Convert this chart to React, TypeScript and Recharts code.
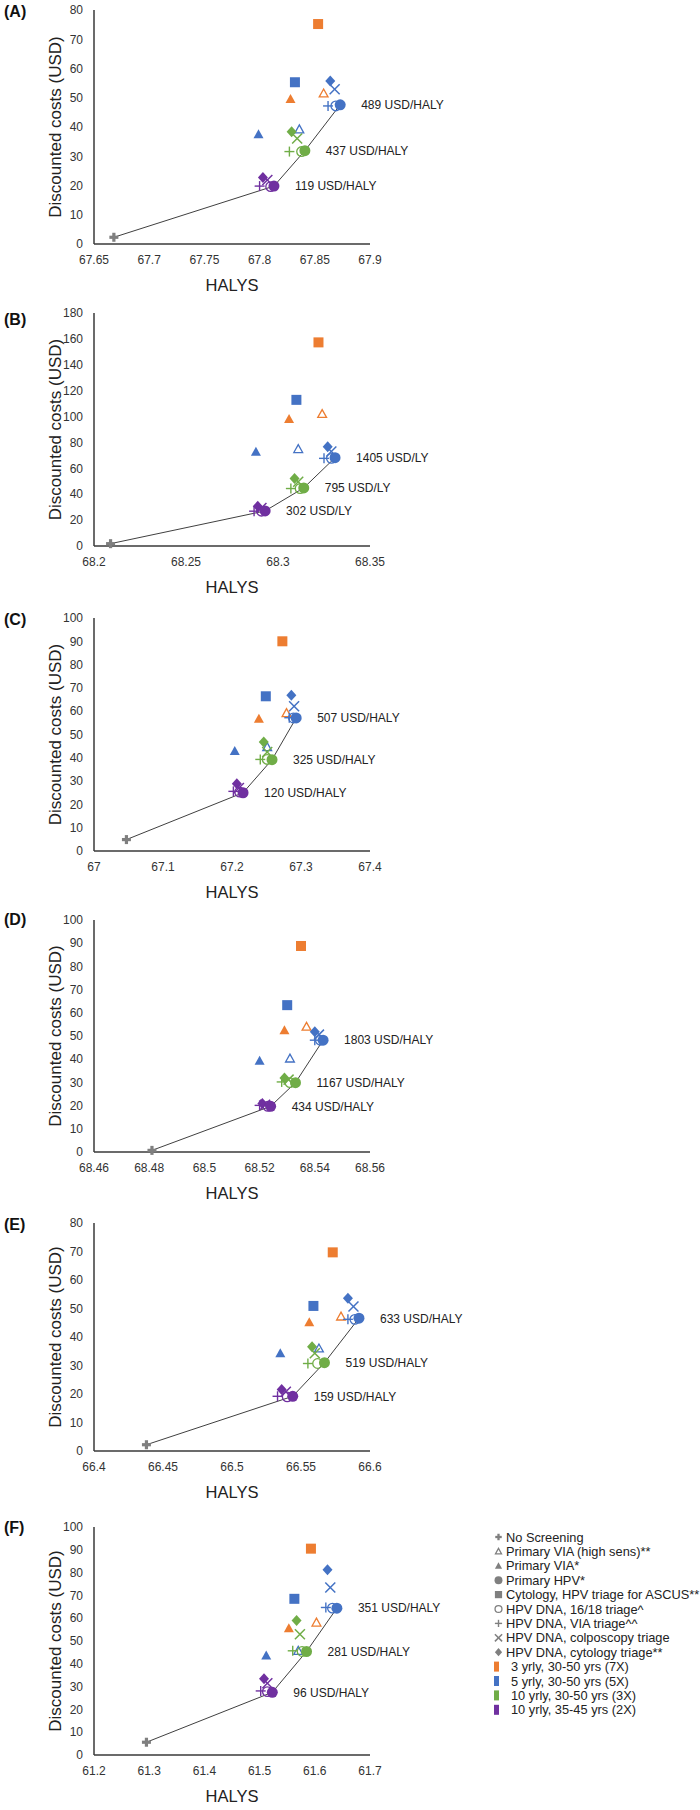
import { ScatterChart, Scatter, XAxis, YAxis, Label, Legend } from 'recharts';

const FONT = '"Liberation Sans", Arial, Helvetica, sans-serif';

// the 22 points drawn in every panel: marker shape + screening interval
const pointStrategy = [
  'none', 'square', 'square', 'triOpen', 'triFill', 'triFill', 'triOpen',
  'diamond', 'cross', 'plus', 'circOpen', 'circFill',
  'diamond', 'cross', 'plus', 'circOpen', 'circFill',
  'diamond', 'cross', 'plus', 'circOpen', 'circFill',
];
const pointGroup = [
  'none', '3yr', '5yr', '3yr', '3yr', '5yr', '5yr',
  '5yr', '5yr', '5yr', '5yr', '5yr',
  '10yr', '10yr', '10yr', '10yr', '10yr',
  '10yr35', '10yr35', '10yr35', '10yr35', '10yr35',
];
// no screening -> purple HPV -> green HPV -> blue HPV
const frontierIndex = [0, 21, 16, 11];

// (A)
const halysA = [67.668, 67.853, 67.832, 67.858, 67.828, 67.799, 67.836, 67.864, 67.868, 67.862, 67.869, 67.873, 67.829, 67.834, 67.827, 67.838, 67.841, 67.803, 67.807, 67.8, 67.81, 67.813];
const costA = [2.3, 75.2, 55.3, 51.5, 49.6, 37.5, 39.2, 55.7, 52.9, 47.2, 47.2, 47.6, 38.4, 36.1, 31.6, 31.6, 31.9, 22.7, 21.9, 19.8, 19.6, 19.8];
const icerA = ['119 USD/HALY', '437 USD/HALY', '489 USD/HALY'];
const xTicksA = [67.65, 67.7, 67.75, 67.8, 67.85, 67.9];
const yTicksA = [0, 10, 20, 30, 40, 50, 60, 70, 80];

// (B)
const halysB = [68.209, 68.322, 68.31, 68.324, 68.306, 68.288, 68.311, 68.327, 68.329, 68.325, 68.329, 68.331, 68.309, 68.311, 68.307, 68.312, 68.314, 68.289, 68.291, 68.287, 68.291, 68.293];
const costB = [1.8, 157.3, 112.9, 102, 98.1, 72.8, 74.9, 76.7, 73, 67.7, 67.7, 68.2, 52.2, 49.6, 44.4, 44.4, 44.9, 30.7, 29.4, 26.9, 26.9, 27.1];
const icerB = ['302 USD/LY', '795 USD/LY', '1405 USD/LY'];
const xTicksB = [68.2, 68.25, 68.3, 68.35];
const yTicksB = [0, 20, 40, 60, 80, 100, 120, 140, 160, 180];

// (C)
const halysC = [67.047, 67.273, 67.249, 67.279, 67.239, 67.204, 67.251, 67.286, 67.29, 67.283, 67.289, 67.293, 67.246, 67.251, 67.241, 67.251, 67.258, 67.207, 67.21, 67.202, 67.211, 67.216];
const costC = [4.9, 90, 66.4, 59.2, 56.8, 42.9, 44.6, 66.8, 62.1, 57.2, 57.1, 57.1, 46.8, 42.5, 39.3, 39.3, 39.2, 28.9, 27, 25.6, 25.3, 25];
const icerC = ['120 USD/HALY', '325 USD/HALY', '507 USD/HALY'];
const xTicksC = [67, 67.1, 67.2, 67.3, 67.4];
const yTicksC = [0, 10, 20, 30, 40, 50, 60, 70, 80, 90, 100];

// (D)
const halysD = [68.481, 68.535, 68.53, 68.537, 68.529, 68.52, 68.531, 68.54, 68.5415, 68.54, 68.542, 68.543, 68.529, 68.5305, 68.528, 68.531, 68.533, 68.521, 68.522, 68.52, 68.523, 68.524];
const costD = [0.7, 88.8, 63.3, 54, 52.5, 39.3, 40.3, 51.8, 50.6, 48.2, 48.2, 48.2, 31.9, 31.2, 30.2, 29.9, 29.9, 20.9, 20.4, 20.1, 19.7, 19.7];
const icerD = ['434 USD/HALY', '1167 USD/HALY', '1803 USD/HALY'];
const xTicksD = [68.46, 68.48, 68.5, 68.52, 68.54, 68.56];
const yTicksD = [0, 10, 20, 30, 40, 50, 60, 70, 80, 90, 100];

// (E)
const halysE = [66.438, 66.573, 66.559, 66.579, 66.556, 66.535, 66.563, 66.584, 66.588, 66.584, 66.589, 66.592, 66.558, 66.56, 66.555, 66.562, 66.567, 66.536, 66.539, 66.533, 66.54, 66.544];
const costE = [2.2, 69.7, 50.9, 47.2, 45.2, 34.3, 36, 53.6, 50.7, 46.2, 46.2, 46.6, 36.6, 34.3, 30.7, 30.7, 31, 21.6, 20.8, 19.2, 19, 19.2];
const icerE = ['159 USD/HALY', '519 USD/HALY', '633 USD/HALY'];
const xTicksE = [66.4, 66.45, 66.5, 66.55, 66.6];
const yTicksE = [0, 10, 20, 30, 40, 50, 60, 70, 80];

// (F)
const halysF = [61.295, 61.593, 61.563, 61.603, 61.553, 61.512, 61.57, 61.623, 61.628, 61.62, 61.632, 61.64, 61.567, 61.573, 61.56, 61.577, 61.585, 61.508, 61.514, 61.502, 61.514, 61.523];
const costF = [5.6, 90.5, 68.5, 58.1, 55.6, 43.6, 45.7, 81.3, 73.5, 64.7, 64.4, 64.4, 59, 53, 45.7, 45.4, 45.4, 33.4, 31.5, 28.1, 27.8, 27.5];
const icerF = ['96 USD/HALY', '281 USD/HALY', '351 USD/HALY'];
const xTicksF = [61.2, 61.3, 61.4, 61.5, 61.6, 61.7];
const yTicksF = [0, 10, 20, 30, 40, 50, 60, 70, 80, 90, 100];

const legendShapes = ['none', 'triOpen', 'triFill', 'circFill', 'square', 'circOpen', 'plus', 'cross', 'diamond'];
const legendShapeNames = [
  'No Screening',
  'Primary VIA (high sens)**',
  'Primary VIA*',
  'Primary HPV*',
  'Cytology, HPV triage for ASCUS**',
  'HPV DNA, 16/18 triage^',
  'HPV DNA, VIA triage^^',
  'HPV DNA, colposcopy triage',
  'HPV DNA, cytology triage**',
];
const legendGroups = ['3yr', '5yr', '10yr', '10yr35'];
const legendGroupNames = ['3 yrly, 30-50 yrs (7X)', '5 yrly, 30-50 yrs (5X)', '10 yrly, 30-50 yrs (3X)', '10 yrly, 35-45 yrs (2X)'];

const groupColor: Record<string, string> = {
  none: '#7f7f7f',
  '3yr': '#ed7d31',
  '5yr': '#4472c4',
  '10yr': '#70ad47',
  '10yr35': '#7030a0',
};

const panels = [
  { letter: '(A)', halys: halysA, cost: costA, icer: icerA, xTicks: xTicksA, yTicks: yTicksA },
  { letter: '(B)', halys: halysB, cost: costB, icer: icerB, xTicks: xTicksB, yTicks: yTicksB },
  { letter: '(C)', halys: halysC, cost: costC, icer: icerC, xTicks: xTicksC, yTicks: yTicksC },
  { letter: '(D)', halys: halysD, cost: costD, icer: icerD, xTicks: xTicksD, yTicks: yTicksD },
  { letter: '(E)', halys: halysE, cost: costE, icer: icerE, xTicks: xTicksE, yTicks: yTicksE },
  { letter: '(F)', halys: halysF, cost: costF, icer: icerF, xTicks: xTicksF, yTicks: yTicksF },
];

// page layout (plot area top / height, letter centre)
const plotTop = [10, 313, 618, 920, 1223, 1527];
const plotHeight = [234, 233, 233, 232, 228, 228];
const letterY = [12, 320, 620, 920, 1225, 1528];

function Marker({ cx, cy, kind, color, s = 1 }: { cx: number; cy: number; kind: string; color: string; s?: number }) {
  const h = 5 * s;
  switch (kind) {
    case 'none':
      return (
        <g fill={color}>
          <rect x={cx - 4.5 * s} y={cy - 1.6 * s} width={9 * s} height={3.2 * s} />
          <rect x={cx - 1.6 * s} y={cy - 4.5 * s} width={3.2 * s} height={9 * s} />
        </g>
      );
    case 'square':
      return <rect x={cx - h} y={cy - h} width={2 * h} height={2 * h} fill={color} />;
    case 'triFill':
      return <polygon points={`${cx},${cy - h} ${cx + h},${cy + 0.8 * h} ${cx - h},${cy + 0.8 * h}`} fill={color} />;
    case 'triOpen':
      return (
        <polygon
          points={`${cx},${cy - h + 0.6} ${cx + h - 0.6},${cy + 0.8 * h - 0.5} ${cx - h + 0.6},${cy + 0.8 * h - 0.5}`}
          fill="none"
          stroke={color}
          strokeWidth={1.3}
        />
      );
    case 'circFill':
      return <circle cx={cx} cy={cy} r={5.5 * s} fill={color} />;
    case 'circOpen':
      return <circle cx={cx} cy={cy} r={4.8 * s} fill="none" stroke={color} strokeWidth={1.3} />;
    case 'plus':
      return (
        <g stroke={color} strokeWidth={1.4}>
          <line x1={cx - h} y1={cy} x2={cx + h} y2={cy} />
          <line x1={cx} y1={cy - h} x2={cx} y2={cy + h} />
        </g>
      );
    case 'cross':
      return (
        <g stroke={color} strokeWidth={1.5}>
          <line x1={cx - h} y1={cy - h} x2={cx + h} y2={cy + h} />
          <line x1={cx - h} y1={cy + h} x2={cx + h} y2={cy - h} />
        </g>
      );
    case 'diamond':
      return <polygon points={`${cx},${cy - h - 0.5} ${cx + h},${cy} ${cx},${cy + h + 0.5} ${cx - h},${cy}`} fill={color} />;
    default:
      return <g />;
  }
}

function LegendBox() {
  const rowY = (i: number) => 8 + 14.4 * i;
  return (
    <svg width={210} height={190} style={{ display: 'block', overflow: 'visible' }}>
      {legendShapes.map((k, i) => (
        <g key={k}>
          <Marker cx={8.5} cy={rowY(i)} kind={k} color="#7f7f7f" s={0.72} />
          <text x={16} y={rowY(i)} dy="0.36em" fontSize={12.8} fill="#222" fontFamily={FONT}>
            {legendShapeNames[i]}
          </text>
        </g>
      ))}
      {legendGroups.map((g, j) => {
        const i = legendShapes.length + j;
        return (
          <g key={g}>
            <rect x={4} y={rowY(i) - 5} width={5} height={10} fill={groupColor[g]} />
            <text x={21} y={rowY(i)} dy="0.36em" fontSize={12.8} fill="#222" fontFamily={FONT}>
              {legendGroupNames[j]}
            </text>
          </g>
        );
      })}
    </svg>
  );
}

const fmt = (v: number) => String(Number(v.toFixed(3)));

function Panel({ idx }: { idx: number }) {
  const p = panels[idx];
  const points = p.halys.map((x, i) => ({ x, y: p.cost[i], kind: pointStrategy[i], group: pointGroup[i] }));
  const frontier = frontierIndex.map((i, k) => ({ x: p.halys[i], y: p.cost[i], label: k > 0 ? p.icer[k - 1] : '' }));
  const xt = p.xTicks;
  const yt = p.yTicks;
  const axisLine = { stroke: '#3a3a3a', strokeWidth: 1.5 };
  const tick = { fontSize: 12, fill: '#333', fontFamily: FONT };
  return (
    <div style={{ position: 'absolute', left: 0, top: plotTop[idx] - 10 }}>
      <div
        style={{
          position: 'absolute',
          left: 4,
          top: letterY[idx] - plotTop[idx],
          fontFamily: FONT,
          fontWeight: 'bold',
          fontSize: 16,
          lineHeight: '20px',
          color: '#111',
          zIndex: 2,
        }}
      >
        {p.letter}
      </div>
      <ScatterChart width={700} height={plotHeight[idx] + 60} margin={{ top: 10, right: 330, left: 16, bottom: 0 }}>
        <XAxis
          type="number"
          dataKey="x"
          domain={[xt[0], xt[xt.length - 1]]}
          ticks={xt}
          interval={0}
          tickLine={false}
          axisLine={axisLine}
          tick={tick}
          tickMargin={5}
          tickFormatter={fmt}
          height={50}
        >
          <Label value="HALYS" position="insideBottom" offset={3} fontSize={16.5} fill="#222" fontFamily={FONT} />
        </XAxis>
        <YAxis
          type="number"
          dataKey="y"
          domain={[yt[0], yt[yt.length - 1]]}
          ticks={yt}
          interval={0}
          tickLine={false}
          axisLine={axisLine}
          tick={tick}
          tickMargin={5}
          width={78}
        >
          <Label value="Discounted costs (USD)" angle={-90} position="center" fontSize={17} fill="#222" fontFamily={FONT} />
        </YAxis>
        <Scatter
          data={frontier}
          isAnimationActive={false}
          line={{ stroke: '#404040', strokeWidth: 1 }}
          lineType="joint"
          shape={(s: any) =>
            s.payload.label ? (
              <text x={s.cx + 21} y={s.cy} dy="0.36em" fontSize={12} fill="#222" fontFamily={FONT}>
                {s.payload.label}
              </text>
            ) : (
              <g />
            )
          }
        />
        <Scatter
          data={points}
          isAnimationActive={false}
          shape={(s: any) => <Marker cx={s.cx} cy={s.cy} kind={s.payload.kind} color={groupColor[s.payload.group]} />}
        />
        {idx === panels.length - 1 && (
          <Legend
            layout="horizontal"
            align="center"
            verticalAlign="middle"
            content={() => <LegendBox />}
            wrapperStyle={{ left: 490, top: 12, width: 210, height: 190 }}
          />
        )}
      </ScatterChart>
    </div>
  );
}

export default function App() {
  return (
    <div style={{ position: 'absolute', left: 0, top: 0, width: 700, height: 1810, background: '#fff' }}>
      {panels.map((_, i) => (
        <Panel key={i} idx={i} />
      ))}
    </div>
  );
}
